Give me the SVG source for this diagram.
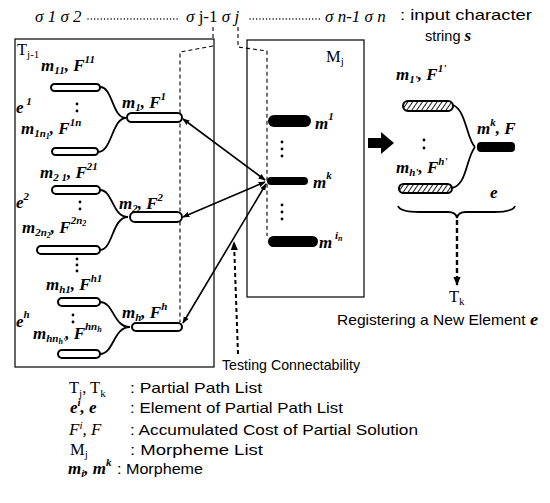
<svg xmlns="http://www.w3.org/2000/svg" width="550" height="503" viewBox="0 0 550 503">
<style>
.bar{fill:#fff;stroke:#000;stroke-width:2}
.blk{fill:#000}
.hat{fill:url(#hatch);stroke:#000;stroke-width:2}
.ln{fill:none;stroke:#000;stroke-width:1.8}
.box{fill:none;stroke:#000;stroke-width:1.2}
.dash{fill:none;stroke:#000;stroke-width:1.1;stroke-dasharray:4 3}
.dots{fill:none;stroke:#000;stroke-width:1.4;stroke-dasharray:0.1 3.2;stroke-linecap:round}
.arr{fill:none;stroke:#000;stroke-width:1.6;marker-start:url(#ah);marker-end:url(#ah)}
.mi{font-family:"Liberation Serif",serif;font-style:italic;font-weight:bold;font-size:17px}
.it{font-family:"Liberation Serif",serif;font-style:italic;font-size:17px}
.rm{font-family:"Liberation Serif",serif;font-size:16.5px}
.s{font-size:11px}
.ss{font-size:8px}
.sans{font-family:"Liberation Sans",Arial,sans-serif;font-size:14.5px}
</style>
<defs>
<pattern id="hatch" width="4" height="4" patternUnits="userSpaceOnUse" patternTransform="rotate(35)">
<rect width="4" height="4" fill="#fff"/><line x1="0" y1="0" x2="0" y2="4" stroke="#000" stroke-width="1.8"/>
</pattern>
<marker id="ah" viewBox="0 0 10 10" refX="9" refY="5" markerWidth="7" markerHeight="7" markerUnits="userSpaceOnUse" orient="auto-start-reverse">
<path d="M0,1 L10,5 L0,9 Z" fill="#000"/>
</marker>
<marker id="ahd" viewBox="0 0 10 10" refX="9" refY="5" markerWidth="9" markerHeight="9" markerUnits="userSpaceOnUse" orient="auto">
<path d="M0,1 L10,5 L0,9 Z" fill="#000"/>
</marker>
</defs>

<g id="input-string">
<text class="it" x="35" y="22">σ 1 σ 2</text>
<path class="dots" d="M88,19 H180"/>
<text class="it" x="186" y="22">σ <tspan font-style="normal">j-1</tspan> σ j</text>
<path class="dots" d="M250,19 H322"/>
<text class="it" x="325" y="22">σ n-1  σ n</text>
<text class="sans" x="400" y="20" textLength="132" lengthAdjust="spacingAndGlyphs">: input character</text>
<text class="sans" x="425" y="41" font-size="15.5px">string <tspan class="mi" font-size="18px">s</tspan></text>
</g>

<g id="T-list">
<rect class="box" x="15" y="39" width="199" height="328"/>
<path class="dash" d="M213,27 V39 M213,46 L180,52 V322"/>
<text class="rm" x="17" y="55">T<tspan class="s" dy="3">j-1</tspan></text>
</g>

<g id="element-1">
<text class="mi" x="41" y="71">m<tspan class="s" dy="3">11</tspan><tspan dy="-3">, F</tspan><tspan class="s" dy="-8">11</tspan></text>
<rect class="bar" x="51" y="84" width="49" height="7" rx="3.5"/>
<text class="mi" x="16" y="113">e<tspan class="s" dy="-8"> 1</tspan></text>
<circle class="blk" cx="77" cy="104" r="1.4"/><circle class="blk" cx="77" cy="111" r="1.4"/>
<text class="mi" x="21" y="134">m<tspan class="s" dy="3">1n</tspan><tspan class="ss" dy="2">1</tspan><tspan dy="-5">, F</tspan><tspan class="s" dy="-8">1n</tspan></text>
<rect class="bar" x="52" y="148" width="46" height="7" rx="3.5"/>
<path class="ln" d="M100,87 C113,87 112,118 126,118 M98,152 C112,152 112,118 126,118"/>
<text class="mi" x="122" y="108">m<tspan class="s" dy="3">1</tspan><tspan dy="-3">, F</tspan><tspan class="s" dy="-8">1</tspan></text>
<rect class="bar" x="127" y="113" width="55" height="9" rx="4.5"/>
</g>

<g id="element-2">
<text class="mi" x="40" y="178">m<tspan class="s" dy="3">2 1</tspan><tspan dy="-3">, F</tspan><tspan class="s" dy="-8">21</tspan></text>
<rect class="bar" x="52" y="186" width="48" height="8" rx="4"/>
<text class="mi" x="16" y="208">e<tspan class="s" dy="-8">2</tspan></text>
<circle class="blk" cx="80" cy="202" r="1.4"/><circle class="blk" cx="80" cy="209" r="1.4"/>
<text class="mi" x="119" y="209">m<tspan class="s" dy="3">2</tspan><tspan dy="-3">, F</tspan><tspan class="s" dy="-8">2</tspan></text>
<text class="mi" x="22" y="233">m<tspan class="s" dy="3">2n</tspan><tspan class="ss" dy="2">2</tspan><tspan dy="-5">, F</tspan><tspan class="s" dy="-9">2n</tspan><tspan class="ss" dy="2">2</tspan></text>
<rect class="bar" x="37" y="246" width="63" height="8" rx="4"/>
<path class="ln" d="M100,190 C113,190 112,217 128,217 M100,250 C113,250 112,217 128,217"/>
<rect class="bar" x="130" y="212" width="52" height="10" rx="5"/>
</g>

<g id="element-h">
<circle class="blk" cx="77" cy="259" r="1.4"/><circle class="blk" cx="77" cy="265" r="1.4"/><circle class="blk" cx="77" cy="271" r="1.4"/>
<text class="mi" x="46" y="290">m<tspan class="s" dy="3">h1</tspan><tspan dy="-3">, F</tspan><tspan class="s" dy="-8">h1</tspan></text>
<rect class="bar" x="58" y="298" width="42" height="8" rx="4"/>
<text class="mi" x="16" y="327">e<tspan class="s" dy="-9">h</tspan></text>
<circle class="blk" cx="73" cy="315" r="1.4"/><circle class="blk" cx="73" cy="322" r="1.4"/>
<text class="mi" x="122" y="318">m<tspan class="s" dy="3">h</tspan><tspan dy="-3">, F</tspan><tspan class="s" dy="-8">h</tspan></text>
<text class="mi" x="33" y="339">m<tspan class="s" dy="3">hn</tspan><tspan class="ss" dy="2">h'</tspan><tspan dy="-5">, F</tspan><tspan class="s" dy="-9">hn</tspan><tspan class="ss" dy="2">h</tspan></text>
<rect class="bar" x="58" y="350" width="42" height="8" rx="4"/>
<path class="ln" d="M100,302 C114,302 113,327 130,327 M100,354 C114,354 113,327 130,327"/>
<rect class="bar" x="132" y="323" width="50" height="8" rx="4"/>
</g>

<g id="M-list">
<rect class="box" x="247" y="40" width="117" height="257"/>
<path class="dash" d="M238,27 V47 L267,51 V236"/>
<text class="rm" x="326" y="62" font-size="17px">M<tspan class="s" dy="3">j</tspan></text>
<rect class="blk" x="268" y="115" width="43" height="12" rx="6"/>
<text class="mi" x="315" y="129">m<tspan class="s" dy="-9">1</tspan></text>
<circle class="blk" cx="282" cy="142" r="1.4"/><circle class="blk" cx="282" cy="149" r="1.4"/><circle class="blk" cx="282" cy="156" r="1.4"/>
<rect class="blk" x="267" y="177" width="41" height="8" rx="4"/>
<text class="mi" x="313" y="188">m<tspan class="s" dy="-9">k</tspan></text>
<circle class="blk" cx="282" cy="205" r="1.4"/><circle class="blk" cx="282" cy="212" r="1.4"/><circle class="blk" cx="282" cy="219" r="1.4"/>
<rect class="blk" x="268" y="236" width="50" height="11" rx="5.5"/>
<text class="mi" x="319" y="248">m<tspan class="s" dy="-9"> i</tspan><tspan class="ss" dy="2">n</tspan></text>
</g>

<g id="connectors">
<path class="arr" d="M183,119 L265,180"/>
<path class="arr" d="M183,217 L265,182"/>
<path class="arr" d="M183,323 L266,184"/>
<path fill="none" stroke="#000" stroke-width="2" stroke-dasharray="4 3" marker-end="url(#ahd)" d="M238,354 L234,242"/>
<path class="blk" d="M368,138 H381 V132 L394,143 L381,154 V148 H368 Z"/>
<path fill="none" stroke="#000" stroke-width="2.4" stroke-dasharray="5 3" marker-end="url(#ahd)" d="M457,220 V285"/>
</g>

<g id="new-element">
<text class="mi" x="396" y="80">m<tspan class="s" dy="3">1'</tspan><tspan dy="-3">, F</tspan><tspan class="s" dy="-8">1'</tspan></text>
<rect class="hat" x="403" y="101" width="50" height="10" rx="5"/>
<circle class="blk" cx="424" cy="140" r="1.4"/><circle class="blk" cx="424" cy="148" r="1.4"/>
<text class="mi" x="396" y="173">m<tspan class="s" dy="3">h'</tspan><tspan dy="-3">, F</tspan><tspan class="s" dy="-8">h'</tspan></text>
<rect class="hat" x="399" y="184" width="53" height="9" rx="4.5"/>
<path class="ln" d="M453,105 C466,110 467,140 475,147 M452,188 C467,185 466,158 475,147"/>
<rect class="blk" x="477" y="142" width="38" height="10" rx="4"/>
<text class="mi" x="477" y="134">m<tspan class="s" dy="-8">k</tspan><tspan dy="8">, F</tspan></text>
<text class="mi" x="490" y="198">e</text>
<path class="ln" d="M398,206 Q400,212 420,212 L448,212 Q456,212 457,218 Q458,212 466,212 L494,212 Q513,212 515,206"/>
</g>

<g id="labels">
<text class="rm" x="449" y="302">T<tspan class="s" dy="3">k</tspan></text>
<text class="sans" x="337" y="325" textLength="201" lengthAdjust="spacingAndGlyphs">Registering a New Element <tspan class="mi">e</tspan></text>
<text class="sans" x="222" y="370" textLength="138" lengthAdjust="spacingAndGlyphs">Testing Connectability</text>
</g>

<g id="legend">
<text class="rm" x="69" y="393">T<tspan class="s" dy="4">j</tspan><tspan dy="-4">, T</tspan><tspan class="s" dy="4">k</tspan></text>
<text class="sans" x="130" y="393" textLength="132" lengthAdjust="spacingAndGlyphs">: Partial Path List</text>
<text class="mi" x="70" y="413">e<tspan class="s" dy="-7">i</tspan><tspan dy="7">, e</tspan></text>
<text class="sans" x="130" y="413" textLength="213" lengthAdjust="spacingAndGlyphs">: Element of Partial Path List</text>
<text class="it" x="69" y="435">F<tspan class="s" dy="-6">i</tspan><tspan dy="6">, F</tspan></text>
<text class="sans" x="130" y="435" textLength="288" lengthAdjust="spacingAndGlyphs">: Accumulated Cost of Partial Solution</text>
<text class="rm" x="70" y="455">M<tspan class="s" dy="3">j</tspan></text>
<text class="sans" x="130" y="455" textLength="133" lengthAdjust="spacingAndGlyphs">: Morpheme List</text>
<text class="mi" x="68" y="474">m<tspan class="s" dy="3">i</tspan><tspan dy="-3">, m</tspan><tspan class="s" dy="-8">k</tspan></text>
<text class="sans" x="117" y="474" textLength="86" lengthAdjust="spacingAndGlyphs">: Morpheme</text>
</g>
</svg>
